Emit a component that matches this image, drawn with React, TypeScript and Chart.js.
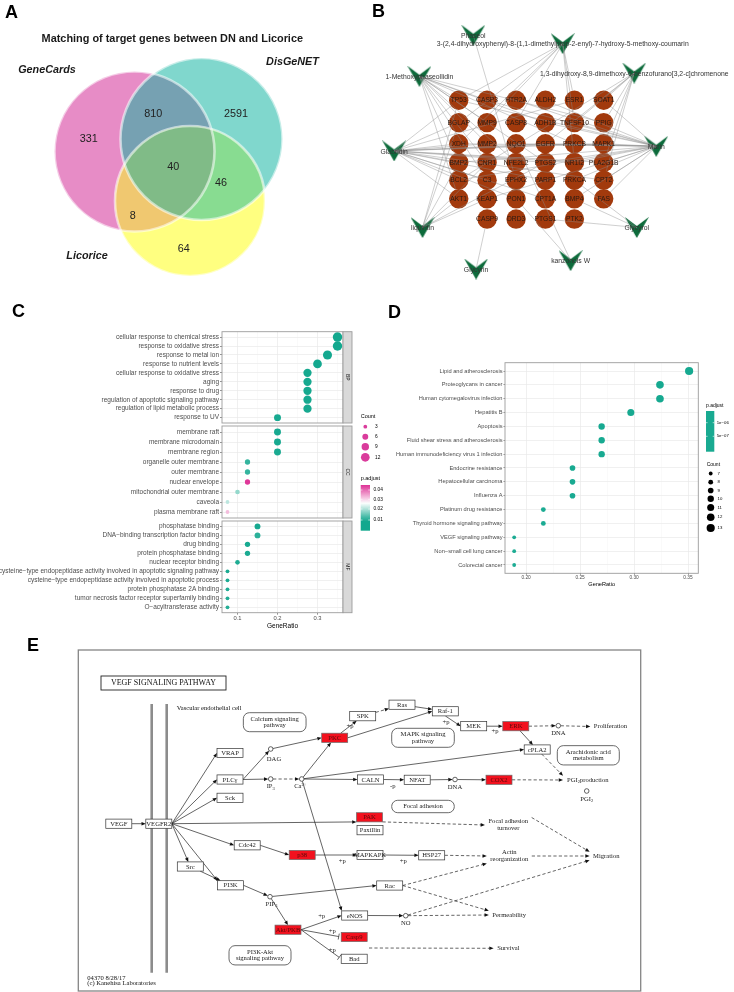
import React, { useEffect, useRef } from 'react';
import { Chart, registerables } from 'chart.js';

Chart.register(...registerables);

const SANS = '"Liberation Sans", Arial, Helvetica, sans-serif';
const SERIF = '"Liberation Serif", "Times New Roman", "DejaVu Serif", serif';
Chart.defaults.font.family = SANS;
const fnt = (size: number, family = SANS, weight = 'normal', style = 'normal') => `${style} ${weight} ${size}px ${family}`;

// ======================= DATA =======================
// ---- A: Venn ----
const vennTitle = 'Matching of target genes between DN and Licorice';
const vennSets = ['GeneCards', 'DisGeNET', 'Licorice'];
const vennRegions = ['GeneCards only', 'DisGeNET only', 'Licorice only', 'GeneCards & DisGeNET', 'GeneCards & Licorice', 'DisGeNET & Licorice', 'All three'];
const vennCounts = [331, 2591, 64, 810, 8, 46, 40];

// ---- B: compound-target network ----
const netGeneRows = [
  ['TP53', 'CASP3', 'HTR2A', 'ALDH2', 'ESR1', 'SOAT1'],
  ['BGLAP', 'MMP9', 'CASP8', 'ADH1B', 'TNFSF10', 'PPIG'],
  ['XDH', 'MMP2', 'NQO1', 'EGFR', 'PRKCB', 'MAPK1'],
  ['BMP2', 'CNR1', 'NFE2L2', 'PTGS2', 'NR1I2', 'PLA2G1B'],
  ['BCL2', 'C3', 'EPHX2', 'PARP1', 'PRKCA', 'CPT2'],
  ['AKT1', 'KEAP1', 'PON1', 'CPT1A', 'BMP4', 'FAS'],
  ['', 'CASP9', 'DRD3', 'PTGS1', 'PTK2', ''],
];
const netCompounds = [
  'Phaseol',
  '3-(2,4-dihydroxyphenyl)-8-(1,1-dimethylprop-2-enyl)-7-hydroxy-5-methoxy-coumarin',
  '1,3-dihydroxy-8,9-dimethoxy-6-benzofurano[3,2-c]chromenone',
  '1-Methoxyphaseollidin',
  'Glabridin',
  'Marin',
  'liquiritin',
  'Glycyrol',
  'Glycyrin',
  'kanzonols W',
];
const netTargets = [
  ['EPHX2'],
  ['ESR1', 'TNFSF10', 'BGLAP', 'MMP9', 'XDH', 'TP53', 'CASP8', 'NR1I2'],
  ['SOAT1', 'PPIG', 'MAPK1', 'PLA2G1B', 'CPT2', 'TNFSF10', 'EGFR', 'BCL2'],
  ['TP53', 'CASP3', 'MMP9', 'MMP2', 'CNR1', 'NFE2L2', 'PTGS2', 'PRKCB', 'ADH1B', 'PPIG', 'BMP2', 'AKT1', 'C3'],
  ['TP53', 'BGLAP', 'XDH', 'MMP2', 'EGFR', 'PRKCB', 'NR1I2', 'PTGS2', 'BMP2', 'BCL2', 'C3', 'PARP1', 'CPT2', 'AKT1', 'PON1', 'CPT1A', 'ESR1', 'PLA2G1B', 'MAPK1'],
  ['TP53', 'CASP3', 'HTR2A', 'ADH1B', 'TNFSF10', 'MAPK1', 'PRKCB', 'EGFR', 'NQO1', 'XDH', 'BMP2', 'PLA2G1B', 'CPT2', 'PRKCA', 'NR1I2', 'BCL2', 'KEAP1', 'BMP4', 'FAS', 'PTGS2', 'ALDH2', 'SOAT1'],
  ['TP53', 'BMP2', 'KEAP1', 'CNR1', 'BGLAP', 'PTGS2', 'AKT1'],
  ['BMP4', 'PTGS1', 'PRKCA'],
  ['CASP9'],
  ['PON1', 'NQO1'],
];

// ---- C: GO enrichment ----
const bpTerms = ['cellular response to chemical stress', 'response to oxidative stress', 'response to metal ion', 'response to nutrient levels', 'cellular response to oxidative stress', 'aging', 'response to drug', 'regulation of apoptotic signaling pathway', 'regulation of lipid metabolic process', 'response to UV'];
const bpRatio = [0.35, 0.35, 0.325, 0.3, 0.275, 0.275, 0.275, 0.275, 0.275, 0.2];
const bpCount = [14, 14, 13, 12, 11, 11, 11, 11, 11, 8];
const bpPadj = [0.0093, 0.0093, 0.0094, 0.0094, 0.0095, 0.0095, 0.0095, 0.0096, 0.0096, 0.0097];

const ccTerms = ['membrane raft', 'membrane microdomain', 'membrane region', 'organelle outer membrane', 'outer membrane', 'nuclear envelope', 'mitochondrial outer membrane', 'caveola', 'plasma membrane raft'];
const ccRatio = [0.2, 0.2, 0.2, 0.125, 0.125, 0.125, 0.1, 0.075, 0.075];
const ccCount = [8, 8, 8, 5, 5, 5, 4, 3, 3];
const ccPadj = [0.0096, 0.0096, 0.0098, 0.0118, 0.0118, 0.0445, 0.019, 0.022, 0.0328];

const mfTerms = ['phosphatase binding', 'DNA\u2212binding transcription factor binding', 'drug binding', 'protein phosphatase binding', 'nuclear receptor binding', 'cysteine\u2212type endopeptidase activity involved in apoptotic signaling pathway', 'cysteine\u2212type endopeptidase activity involved in apoptotic process', 'protein phosphatase 2A binding', 'tumor necrosis factor receptor superfamily binding', 'O\u2212acyltransferase activity'];
const mfRatio = [0.15, 0.15, 0.125, 0.125, 0.1, 0.075, 0.075, 0.075, 0.075, 0.075];
const mfCount = [6, 6, 5, 5, 4, 3, 3, 3, 3, 3];
const mfPadj = [0.0096, 0.0112, 0.0097, 0.0099, 0.0101, 0.0098, 0.0099, 0.0102, 0.0104, 0.0106];

const goStrips = ['BP', 'CC', 'MF'];
const goXTicks = [0.1, 0.15, 0.2, 0.25, 0.3, 0.35];
const goCountLegend = [3, 6, 9, 12];
const goPadjTicks = [0.04, 0.03, 0.02, 0.01];

// ---- D: KEGG enrichment ----
const keggTerms = ['Lipid and atherosclerosis', 'Proteoglycans in cancer', 'Human cytomegalovirus infection', 'Hepatitis B', 'Apoptosis', 'Fluid shear stress and atherosclerosis', 'Human immunodeficiency virus 1 infection', 'Endocrine resistance', 'Hepatocellular carcinoma', 'Influenza A', 'Platinum drug resistance', 'Thyroid hormone signaling pathway', 'VEGF signaling pathway', 'Non\u2212small cell lung cancer', 'Colorectal cancer'];
const keggRatio = [0.351, 0.324, 0.324, 0.297, 0.27, 0.27, 0.27, 0.243, 0.243, 0.243, 0.216, 0.216, 0.189, 0.189, 0.189];
const keggCount = [13, 12, 12, 11, 10, 10, 10, 9, 9, 9, 8, 8, 7, 7, 7];
const keggPadj = [2e-9, 3e-8, 4e-8, 9e-8, 2e-7, 2.5e-7, 3e-7, 4e-7, 5e-7, 6e-7, 8e-7, 9e-7, 1.1e-6, 1.2e-6, 1.3e-6];
const keggXTicks = [0.2, 0.225, 0.25, 0.275, 0.3, 0.325, 0.35];
const keggCountLegend = [7, 8, 9, 10, 11, 12, 13];
const keggPadjTicks = ['1e\u221206', '5e\u221207'];

// ---- E: KEGG VEGF pathway map ----
const pwTitle = 'VEGF SIGNALING PATHWAY';
const pwGeneIds = ['VEGF', 'VEGFR2', 'VRAP', 'PLCg', 'Sck', 'Src', 'PI3K', 'Cdc42', 'p38', 'MAPKAPK', 'HSP27', 'PAK', 'Paxillin', 'Rac', 'eNOS', 'Akt', 'Casp9', 'Bad', 'PKC', 'SPK', 'Ras', 'Raf1', 'MEK', 'ERK', 'cPLA2', 'CALN', 'NFAT', 'COX2'];
const pwGeneLabels = ['VEGF', 'VEGFR2', 'VRAP', 'PLC\u03b3', 'Sck', 'Src', 'PI3K', 'Cdc42', 'p38', 'MAPKAPK', 'HSP27', 'PAK', 'Paxillin', 'Rac', 'eNOS', 'Akt/PKB', 'Casp9', 'Bad', 'PKC', 'SPK', 'Ras', 'Raf-1', 'MEK', 'ERK', 'cPLA2', 'CALN', 'NFAT', 'COX2'];
const pwHits = ['PKC', 'ERK', 'COX2', 'PAK', 'p38', 'Akt', 'Casp9'];
const pwMapIds = ['CaMap', 'MAPKMap', 'AAMap', 'FAMap', 'PI3KMap'];
const pwMapLabels = [['Calcium signaling', 'pathway'], ['MAPK signaling', 'pathway'], ['Arachidonic acid', 'metabolism'], ['Focal adhesion'], ['PI3K-Akt', 'signaling pathway']];
const pwCpdIds = ['DAG', 'IP3', 'Ca', 'DNA1', 'DNA2', 'PGI2', 'PIP3', 'NO'];
// _{..} subscript, ^{..} superscript
const pwCpdLabels = ['DAG', 'IP_{3}', 'Ca^{2+}', 'DNA', 'DNA', 'PGI_{2}', 'PIP_{3}', 'NO'];
const pwOutIds = ['Prolif', 'PGIprod', 'FATurn', 'Actin', 'Migr', 'Perm', 'Surv'];
const pwOutLabels = [['Proliferation'], ['PGI_{2}production'], ['Focal adhesion', 'turnover'], ['Actin', 'reorganization'], ['Migration'], ['Permeability'], ['Survival']];
// [from, to, type (a arrow, d dashed, i inhibition), fromAnchor, toAnchor]
const pwEdges = [
  ['VEGF', 'VEGFR2', 'a', 'r', 'l'],
  ['VEGFR2', 'VRAP', 'a', 'r', 'l'], ['VEGFR2', 'PLCg', 'a', 'r', 'l'], ['VEGFR2', 'Sck', 'a', 'r', 'l'],
  ['VEGFR2', 'PAK', 'a', 'r', 'bl'], ['VEGFR2', 'Cdc42', 'a', 'r', 'l'], ['VEGFR2', 'Src', 'a', 'r', ''], ['VEGFR2', 'PI3K', 'a', 'r', 'tl'],
  ['Src', 'PI3K', 'a', '', ''],
  ['PLCg', 'DAG', 'a', 'r', ''], ['PLCg', 'IP3', 'a', 'r', ''], ['IP3', 'Ca', 'd', '', ''],
  ['DAG', 'PKC', 'a', '', 'l'], ['Ca', 'PKC', 'a', '', ''], ['Ca', 'CALN', 'a', '', 'l'], ['Ca', 'cPLA2', 'a', '', 'l'], ['Ca', 'eNOS', 'a', '', 'tl'],
  ['PKC', 'SPK', 'a', '', ''], ['PKC', 'Raf1', 'a', 'r', 'l'], ['SPK', 'Ras', 'd', '', ''], ['Ras', 'Raf1', 'a', '', ''],
  ['Raf1', 'MEK', 'a', 'b', 'l'], ['MEK', 'ERK', 'a', 'r', 'l'], ['ERK', 'DNA1', 'd', 'r', ''], ['DNA1', 'Prolif', 'd', '', 'l'],
  ['ERK', 'cPLA2', 'a', '', ''], ['cPLA2', 'PGIprod', 'd', '', 'tl'],
  ['CALN', 'NFAT', 'a', 'r', 'l'], ['NFAT', 'DNA2', 'a', 'r', ''], ['DNA2', 'COX2', 'a', '', 'l'], ['COX2', 'PGIprod', 'd', 'r', 'l'],
  ['PAK', 'FATurn', 'd', 'br', 'l'], ['Cdc42', 'p38', 'a', 'r', 'l'], ['p38', 'MAPKAPK', 'a', 'r', 'l'], ['MAPKAPK', 'HSP27', 'a', 'r', 'l'], ['HSP27', 'Actin', 'd', 'r', 'l'],
  ['PI3K', 'PIP3', 'a', 'r', ''], ['PIP3', 'Rac', 'a', '', 'l'], ['PIP3', 'Akt', 'a', '', 't'],
  ['Akt', 'eNOS', 'a', 'r', 'l'], ['Akt', 'Casp9', 'i', 'r', 'l'], ['Akt', 'Bad', 'i', 'r', 'l'],
  ['eNOS', 'NO', 'a', 'r', ''], ['NO', 'Perm', 'd', '', 'l'], ['NO', 'Migr', 'd', '', 'bl'],
  ['Rac', 'Actin', 'd', 'r', 'bl'], ['Rac', 'Perm', 'd', 'r', 'tl'],
  ['FATurn', 'Migr', 'd', 'tr', 'tl'], ['Actin', 'Migr', 'd', 'r', 'l'], ['J', 'Surv', 'd', '', 'l'],
];
const pwNotes = ['+p', '+p', '+p', '-p', '+p', '+p', '+p', '+p', '+p'];
const pwCaption = ['04370 8/28/17', '(c) Kanehisa Laboratories'];

// ======================= LAYOUT (positions / sizes / styles) =======================
const vennCircles = [[134.5, 151.5, 80], [201.5, 139, 81], [190, 201, 75]];
const vennFill = ['#E78CC6', '#80D7CD', '#FFFF80'];
const vennOverlap = { GD: '#76A1B2', GL: '#F0C870', DL: '#88DC91', GDL: '#80BB87' };
const vennSetLabelPos = [[47, 70], [292.5, 62], [87, 256]];
const vennCountPos = [[88.7, 139.3], [236, 114.5], [183.7, 248.7], [153.3, 114.5], [132.7, 216], [221, 182.7], [173.3, 166.7]];

const netColX = [453.3, 483.3, 514, 545, 575.7, 606.7];
const netRowY = [96.7, 120.7, 143.3, 163.3, 182.3, 202.3, 224];
const netCompoundPos = [[468.7, 27], [563.3, 36], [639, 67.5], [411.7, 71], [385, 151], [662.3, 146], [415, 233], [641.7, 233], [471.7, 277.5], [571.7, 268.5]];
const GENE_R = 9.7;

const C_LAYOUT = [
  { top: 300, height: 132, areaTop: 331.7, areaBottom: 423 },
  { top: 404, height: 140, areaTop: 426, areaBottom: 518 },
  { top: 508, height: 127, areaTop: 521, areaBottom: 612.7 },
];
const C_X = [0.06125, 0.36375];
const C_AREA_LEFT = 222, C_AREA_RIGHT = 343, C_CANVAS_W = 400;

const D_X = [0.1805, 0.3595];
const D_CANVAS = { left: 370, top: 300, width: 364, height: 300 };
const D_AREA = { left: 505, right: 698.3, top: 362.7, bottom: 573.3 };

const pwPos: Record<string, number[]> = {
  VEGF: [118.8, 823.7], VEGFR2: [158.8, 823.7], VRAP: [230, 753], PLCg: [230, 779.5], Sck: [230, 797.8],
  Src: [190.3, 866.5], PI3K: [230.5, 885.3], Cdc42: [247.2, 845.3], p38: [302.2, 855], MAPKAPK: [370, 855],
  HSP27: [431.7, 855.3], PAK: [369.5, 817.3], Paxillin: [370, 830.2], Rac: [389.7, 885.5], eNOS: [354.7, 915.5],
  Akt: [288, 929.7], Casp9: [354.2, 937], Bad: [354.2, 958.8], PKC: [334.7, 737.8], SPK: [362.7, 716.2],
  Ras: [402, 704.7], Raf1: [445.3, 711.3], MEK: [473.7, 726.2], ERK: [515.8, 726.2], cPLA2: [537.2, 749.5],
  CALN: [370.5, 779.5], NFAT: [417.2, 779.8], COX2: [499, 779.8],
  CaMap: [274.7, 722.2, 62.7, 19], MAPKMap: [423, 737.8, 62.6, 19], AAMap: [588.3, 755.3, 62, 19.3], FAMap: [423, 806.5, 62.6, 12.4], PI3KMap: [260, 955.3, 62, 19.3],
  DAG: [270.7, 749, 3.3, 10.3], IP3: [270.7, 779], Ca: [301.7, 779, -1.5, 7.7], DNA1: [558.3, 725.7], DNA2: [455, 779.5], PGI2: [586.7, 791, 0, 8.3], PIP3: [270, 896.7, 1.5, 7.3], NO: [405.7, 915.7],
  Prolif: [610.5, 726.5], PGIprod: [587.8, 780], FATurn: [508.3, 825], Actin: [509.3, 856], Migr: [606.3, 856], Perm: [509.2, 915], Surv: [508.3, 948.3],
  J: [369, 948],
};
const pwNotePos = [[350, 726.7], [446, 722.3], [495, 731.7], [392.7, 786], [342.3, 861.7], [321.7, 916], [332.3, 931.7], [332.3, 950], [403.3, 861.7]];
const pwFrame = [78.3, 650, 640.7, 991];
const pwTitleBox = [101, 676, 226, 690];
const pwMembraneX = [151.7, 166.7];
const pwMembraneY = [704, 972.7];

// ======================= HELPERS =======================
function hiddenOptions(xmin: number, xmax: number, ymin: number, ymax: number) {
  return {
    responsive: false, maintainAspectRatio: false, animation: false, events: [],
    layout: { padding: 0 },
    plugins: { legend: { display: false }, tooltip: { enabled: false }, title: { display: false } },
    scales: {
      x: { type: 'linear', display: false, min: xmin, max: xmax },
      y: { type: 'linear', display: false, min: ymin, max: ymax, reverse: true },
    },
  };
}

function drawLetter(ctx: CanvasRenderingContext2D, t: string, x: number, y: number) {
  ctx.save();
  ctx.font = fnt(18, SANS, 'bold');
  ctx.fillStyle = '#000';
  ctx.textAlign = 'left';
  ctx.textBaseline = 'alphabetic';
  ctx.fillText(t, x, y);
  ctx.restore();
}

const lerp = (a: number, b: number, t: number) => a + (b - a) * t;
function mixRGB(c1: number[], c2: number[], t: number) {
  return `rgb(${Math.round(lerp(c1[0], c2[0], t))},${Math.round(lerp(c1[1], c2[1], t))},${Math.round(lerp(c1[2], c2[2], t))})`;
}
const GO_TEAL = [19, 168, 142], GO_WHITE = [255, 255, 255], GO_PINK = [222, 50, 150];
const GO_P = [0.0093, 0.027, 0.045];
function colorGO(p: number) {
  if (p <= GO_P[0]) return mixRGB(GO_TEAL, GO_TEAL, 0);
  if (p <= GO_P[1]) return mixRGB(GO_TEAL, GO_WHITE, (p - GO_P[0]) / (GO_P[1] - GO_P[0]));
  return mixRGB(GO_WHITE, GO_PINK, Math.min(1, (p - GO_P[1]) / (GO_P[2] - GO_P[1])));
}
const sizeGO = (n: number) => Math.sqrt(1.7 * n - 1.5);
const sizeKEGG = (n: number) => Math.sqrt(2.2 * n - 11.8);
function colorKEGG(p: number) {
  return mixRGB([22, 169, 144], [30, 172, 148], Math.min(1, p / 1.4e-6));
}

// rich text with _{sub} and ^{sup}, centred at (x, y)
function drawRich(ctx: CanvasRenderingContext2D, text: string, x: number, y: number, size: number, family: string) {
  const segs: { t: string; k: string }[] = [];
  const re = /([_^])\{([^}]*)\}/g;
  let last = 0;
  let m: RegExpExecArray | null;
  while ((m = re.exec(text))) {
    if (m.index > last) segs.push({ t: text.slice(last, m.index), k: '' });
    segs.push({ t: m[2], k: m[1] });
    last = m.index + m[0].length;
  }
  if (last < text.length) segs.push({ t: text.slice(last), k: '' });
  const small = size * 0.68;
  const widths = segs.map((s) => { ctx.font = fnt(s.k ? small : size, family); return ctx.measureText(s.t).width; });
  const total = widths.reduce((a, b) => a + b, 0);
  let cx = x - total / 2;
  ctx.save();
  ctx.textAlign = 'left';
  ctx.textBaseline = 'middle';
  segs.forEach((s, i) => {
    ctx.font = fnt(s.k ? small : size, family);
    const dy = s.k === '_' ? size * 0.3 : s.k === '^' ? -size * 0.32 : 0;
    ctx.fillText(s.t, cx, y + dy);
    cx += widths[i];
  });
  ctx.restore();
  return total;
}

function ChartCanvas(props: { left: number; top: number; width: number; height: number; make: () => any }) {
  const ref = useRef<HTMLCanvasElement | null>(null);
  useEffect(() => {
    const el = ref.current;
    if (!el) return;
    const chart = new Chart(el, props.make());
    return () => chart.destroy();
  }, []);
  const { left, top, width, height } = props;
  return <canvas ref={ref} width={width} height={height} style={{ position: 'absolute', left, top, width, height }} />;
}

// ======================= PANEL A =======================
const vennPlugin = {
  id: 'venn',
  beforeDatasetsDraw(chart: any) {
    const { ctx, scales: { x, y } } = chart;
    const C = vennCircles.map((c) => ({ x: x.getPixelForValue(c[0]), y: y.getPixelForValue(c[1]), r: x.getPixelForValue(c[0] + c[2]) - x.getPixelForValue(c[0]) }));
    const path = (c: any) => { ctx.beginPath(); ctx.arc(c.x, c.y, c.r, 0, Math.PI * 2); };
    ctx.save();
    C.forEach((c, i) => { path(c); ctx.fillStyle = vennFill[i]; ctx.fill(); });
    const clipFill = (clips: number[], idx: number, color: string) => {
      ctx.save();
      clips.forEach((k) => { path(C[k]); ctx.clip(); });
      path(C[idx]); ctx.fillStyle = color; ctx.fill();
      ctx.restore();
    };
    clipFill([0], 1, vennOverlap.GD);
    clipFill([0], 2, vennOverlap.GL);
    clipFill([1], 2, vennOverlap.DL);
    clipFill([0, 1], 2, vennOverlap.GDL);
    ctx.lineWidth = 2.6;
    ctx.strokeStyle = 'rgba(255,255,255,0.55)';
    C.forEach((c) => { path(c); ctx.stroke(); });
    ctx.restore();
  },
  afterDatasetsDraw(chart: any) {
    const { ctx, scales: { x, y } } = chart;
    ctx.save();
    ctx.textAlign = 'center';
    ctx.textBaseline = 'middle';
    ctx.fillStyle = '#222';
    ctx.font = fnt(10.8);
    chart.getDatasetMeta(0).data.forEach((pt: any, i: number) => ctx.fillText(String(vennCounts[i]), pt.x, pt.y));
    ctx.fillStyle = '#1a1a1a';
    ctx.font = fnt(10.9, SANS, 'bold');
    ctx.fillText(vennTitle, x.getPixelForValue(172.3), y.getPixelForValue(39.3));
    ctx.font = fnt(10.8, SANS, 'bold', 'italic');
    vennSets.forEach((s, i) => ctx.fillText(s, x.getPixelForValue(vennSetLabelPos[i][0]), y.getPixelForValue(vennSetLabelPos[i][1])));
    ctx.restore();
    drawLetter(ctx, 'A', 5, 18);
  },
};
const vennConfig = () => ({
  type: 'scatter',
  data: { datasets: [{ label: 'regions', data: vennCountPos.map((p, i) => ({ x: p[0], y: p[1], region: vennRegions[i] })), pointRadius: 0 }] },
  options: hiddenOptions(0, 370, 0, 300),
  plugins: [vennPlugin],
});

// ======================= PANEL B =======================
const netGeneNames: string[] = [];
const netGenePts: { x: number; y: number }[] = [];
netGeneRows.forEach((row, r) => row.forEach((g, c) => { if (g) { netGeneNames.push(g); netGenePts.push({ x: netColX[c], y: netRowY[r] }); } }));

const netPlugin = {
  id: 'net',
  afterDatasetsDraw(chart: any) {
    const { ctx } = chart;
    const genes = chart.getDatasetMeta(0).data;
    const cpds = chart.getDatasetMeta(1).data;
    ctx.save();
    ctx.strokeStyle = 'rgba(140,140,140,0.7)';
    ctx.lineWidth = 0.6;
    netTargets.forEach((tg, ci) => {
      const c = cpds[ci];
      tg.forEach((name) => {
        const g = genes[netGeneNames.indexOf(name)];
        if (!g) return;
        const dx = g.x - c.x, dy = g.y - c.y, L = Math.hypot(dx, dy);
        ctx.beginPath();
        ctx.moveTo(c.x, c.y);
        ctx.lineTo(g.x - (dx / L) * GENE_R, g.y - (dy / L) * GENE_R);
        ctx.stroke();
      });
    });
    ctx.textAlign = 'center';
    ctx.textBaseline = 'middle';
    ctx.font = fnt(6.7);
    ctx.fillStyle = '#2a1a12';
    genes.forEach((g: any, i: number) => ctx.fillText(netGeneNames[i], g.x, g.y + 0.3));
    ctx.font = fnt(6.8);
    ctx.fillStyle = '#333';
    cpds.forEach((c: any, i: number) => ctx.fillText(netCompounds[i], c.x, c.y + 1));
    ctx.restore();
    drawLetter(ctx, 'B', 2, 17);
  },
};
const networkConfig = () => {
  const chev = document.createElement('canvas');
  chev.width = 24; chev.height = 21;
  const g = chev.getContext('2d')!;
  g.fillStyle = '#0D6B3B';
  g.beginPath(); g.moveTo(0, 0); g.lineTo(12, 9); g.lineTo(24, 0); g.lineTo(12, 21); g.closePath(); g.fill();
  return {
    type: 'scatter',
    data: {
      datasets: [
        { label: 'targets', data: netGenePts, pointRadius: GENE_R, pointBackgroundColor: '#A23A0D', pointBorderWidth: 0 },
        { label: 'compounds', data: netCompoundPos.map((p) => ({ x: p[0], y: p[1] })), pointRadius: 10, pointStyle: chev, pointBorderWidth: 0 },
      ],
    },
    options: hiddenOptions(370, 734, 0, 300),
    plugins: [netPlugin],
  };
};

// ======================= PANEL C =======================
const goFacets = [
  { terms: bpTerms, ratio: bpRatio, count: bpCount, padj: bpPadj, strip: goStrips[0] },
  { terms: ccTerms, ratio: ccRatio, count: ccCount, padj: ccPadj, strip: goStrips[1] },
  { terms: mfTerms, ratio: mfRatio, count: mfCount, padj: mfPadj, strip: goStrips[2] },
];
const isMajorC = (v: number) => Math.abs(v * 10 - Math.round(v * 10)) < 1e-6;

function panelFrame(ctx: CanvasRenderingContext2D, a: any, strip?: string) {
  ctx.save();
  ctx.strokeStyle = '#9c9c9c';
  ctx.lineWidth = 0.9;
  ctx.strokeRect(a.left, a.top, a.right - a.left, a.bottom - a.top);
  if (strip) {
    ctx.fillStyle = '#d9d9d9';
    ctx.fillRect(a.right, a.top, 9, a.bottom - a.top);
    ctx.strokeRect(a.right, a.top, 9, a.bottom - a.top);
    ctx.translate(a.right + 4.5, (a.top + a.bottom) / 2);
    ctx.rotate(Math.PI / 2);
    ctx.fillStyle = '#1a1a1a';
    ctx.font = fnt(5);
    ctx.textAlign = 'center';
    ctx.textBaseline = 'middle';
    ctx.fillText(strip, 0, 0);
  }
  ctx.restore();
}

function goLegend(ctx: CanvasRenderingContext2D, oy: number) {
  ctx.save();
  ctx.fillStyle = '#000';
  ctx.textAlign = 'left';
  ctx.textBaseline = 'middle';
  ctx.font = fnt(5.5);
  ctx.fillText('Count', 360.7, 416 - oy);
  const ys = [426.7, 436.7, 446.7, 457.3];
  goCountLegend.forEach((n, i) => {
    ctx.fillStyle = '#DA3C9C';
    ctx.beginPath(); ctx.arc(365.3, ys[i] - oy, sizeGO(n), 0, Math.PI * 2); ctx.fill();
    ctx.fillStyle = '#000';
    ctx.font = fnt(4.8);
    ctx.fillText(String(n), 375, ys[i] - oy);
  });
  ctx.font = fnt(5.5);
  ctx.fillText('p.adjust', 360.7, 478.7 - oy);
  const top = 485 - oy, bot = 530.7 - oy;
  const pAt = (yy: number) => 0.04 - (yy + oy - 490) / 1000;
  const grad = ctx.createLinearGradient(0, top, 0, bot);
  for (let k = 0; k <= 10; k++) {
    const yy = top + ((bot - top) * k) / 10;
    grad.addColorStop(k / 10, colorGO(pAt(yy)));
  }
  ctx.fillStyle = grad;
  ctx.fillRect(360.7, top, 9.3, bot - top);
  const tys = [490, 499.3, 509, 520];
  goPadjTicks.forEach((p, i) => {
    ctx.strokeStyle = '#fff';
    ctx.lineWidth = 0.6;
    ctx.beginPath(); ctx.moveTo(360.7, tys[i] - oy); ctx.lineTo(362.5, tys[i] - oy); ctx.moveTo(368.2, tys[i] - oy); ctx.lineTo(370, tys[i] - oy); ctx.stroke();
    ctx.fillStyle = '#000';
    ctx.font = fnt(4.8);
    ctx.fillText(p.toFixed(2), 373.5, tys[i] - oy);
  });
  ctx.restore();
}

function goFacetConfig(idx: number) {
  const fc = goFacets[idx];
  const L = C_LAYOUT[idx];
  const showX = idx === 2;
  const xAxisH = showX ? 17.2 : 0;
  const n = fc.terms.length;
  return {
    type: 'scatter',
    data: {
      datasets: [{
        label: fc.strip,
        data: fc.ratio.map((r, i) => ({ x: r, y: i })),
        pointRadius: (c: any) => sizeGO(fc.count[c.dataIndex]),
        pointBackgroundColor: (c: any) => colorGO(fc.padj[c.dataIndex]),
        pointBorderWidth: 0,
      }],
    },
    options: {
      responsive: false, maintainAspectRatio: false, animation: false, events: [],
      layout: { padding: { left: 0, right: C_CANVAS_W - C_AREA_RIGHT, top: L.areaTop - L.top, bottom: L.top + L.height - L.areaBottom - xAxisH } },
      plugins: { legend: { display: false }, tooltip: { enabled: false } },
      scales: {
        x: {
          type: 'linear', min: C_X[0], max: C_X[1],
          afterBuildTicks: (s: any) => { s.ticks = goXTicks.map((v) => ({ value: v })); },
          afterFit: (s: any) => { s.height = xAxisH; },
          ticks: { display: showX, autoSkip: false, maxRotation: 0, padding: 0, font: { family: SANS, size: 5.8 }, color: '#4d4d4d', callback: (v: number) => (isMajorC(v) ? String(+v.toFixed(1)) : '') },
          grid: {
            color: (c: any) => (c.tick && isMajorC(c.tick.value) ? '#e9e9e9' : '#f2f2f2'),
            lineWidth: (c: any) => (c.tick && isMajorC(c.tick.value) ? 0.7 : 0.4),
            drawTicks: showX, tickLength: 2,
            tickColor: (c: any) => (c.tick && isMajorC(c.tick.value) ? '#666' : 'rgba(0,0,0,0)'),
          },
          border: { display: false },
          title: { display: showX, text: 'GeneRatio', font: { family: SANS, size: 6.5 }, color: '#000', padding: { top: 0, bottom: 0 } },
        },
        y: {
          type: 'linear', min: -0.6, max: n - 0.4, reverse: true,
          afterBuildTicks: (s: any) => { s.ticks = fc.terms.map((_, i) => ({ value: i })); },
          afterFit: (s: any) => { s.width = C_AREA_LEFT; },
          ticks: { autoSkip: false, padding: 1, font: { family: SANS, size: 6.5 }, color: '#4d4d4d', callback: (v: number) => fc.terms[v] ?? '' },
          grid: { color: '#e9e9e9', lineWidth: 0.7, drawTicks: true, tickLength: 2, tickColor: '#666' },
          border: { display: false },
        },
      },
    },
    plugins: [{
      id: 'goFacet' + idx,
      afterDatasetsDraw(chart: any) {
        panelFrame(chart.ctx, chart.chartArea, fc.strip);
        if (idx === 0) drawLetter(chart.ctx, 'C', 12, 317 - L.top);
        if (idx === 1) goLegend(chart.ctx, L.top);
      },
    }],
  };
}

// ======================= PANEL D =======================
const isMajorD = (v: number) => Math.abs(v * 20 - Math.round(v * 20)) < 1e-6;
const D_XAXIS_H = 14.4;
function keggLegend(ctx: CanvasRenderingContext2D) {
  const ox = D_CANVAS.left, oy = D_CANVAS.top;
  ctx.save();
  ctx.fillStyle = '#000';
  ctx.textAlign = 'left';
  ctx.textBaseline = 'middle';
  ctx.font = fnt(5);
  ctx.fillText('p.adjust', 706 - ox, 406 - oy);
  ctx.fillStyle = colorKEGG(5e-7);
  ctx.fillRect(706 - ox, 411 - oy, 8.3, 40.7);
  const tys = [422.7, 436.3];
  keggPadjTicks.forEach((t, i) => {
    ctx.strokeStyle = '#fff'; ctx.lineWidth = 0.6;
    ctx.beginPath(); ctx.moveTo(706 - ox, tys[i] - oy); ctx.lineTo(707.6 - ox, tys[i] - oy); ctx.moveTo(712.7 - ox, tys[i] - oy); ctx.lineTo(714.3 - ox, tys[i] - oy); ctx.stroke();
    ctx.fillStyle = '#000';
    ctx.font = fnt(4.3);
    ctx.fillText(t, 716.7 - ox, tys[i] - oy);
  });
  ctx.font = fnt(5);
  ctx.fillText('Count', 706.7 - ox, 464.3 - oy);
  const ys = [473.5, 482.2, 490.5, 498.8, 507.5, 517.3, 528];
  keggCountLegend.forEach((n, i) => {
    ctx.fillStyle = '#000';
    ctx.beginPath(); ctx.arc(710.7 - ox, ys[i] - oy, sizeKEGG(n), 0, Math.PI * 2); ctx.fill();
    ctx.font = fnt(4.3);
    ctx.fillText(String(n), 717.5 - ox, ys[i] - oy);
  });
  ctx.restore();
}
const keggConfig = () => ({
  type: 'scatter',
  data: {
    datasets: [{
      label: 'KEGG',
      data: keggRatio.map((r, i) => ({ x: r, y: i })),
      pointRadius: (c: any) => sizeKEGG(keggCount[c.dataIndex]),
      pointBackgroundColor: (c: any) => colorKEGG(keggPadj[c.dataIndex]),
      pointBorderWidth: 0,
    }],
  },
  options: {
    responsive: false, maintainAspectRatio: false, animation: false, events: [],
    layout: { padding: { left: 0, right: D_CANVAS.left + D_CANVAS.width - D_AREA.right, top: D_AREA.top - D_CANVAS.top, bottom: D_CANVAS.top + D_CANVAS.height - D_AREA.bottom - D_XAXIS_H } },
    plugins: { legend: { display: false }, tooltip: { enabled: false } },
    scales: {
      x: {
        type: 'linear', min: D_X[0], max: D_X[1],
        afterBuildTicks: (s: any) => { s.ticks = keggXTicks.map((v) => ({ value: v })); },
        afterFit: (s: any) => { s.height = D_XAXIS_H; },
        ticks: { autoSkip: false, maxRotation: 0, padding: 0, font: { family: SANS, size: 4.8 }, color: '#4d4d4d', callback: (v: number) => (isMajorD(v) ? v.toFixed(2) : '') },
        grid: {
          color: (c: any) => (c.tick && isMajorD(c.tick.value) ? '#e9e9e9' : '#f3f3f3'),
          lineWidth: (c: any) => (c.tick && isMajorD(c.tick.value) ? 0.7 : 0.4),
          drawTicks: true, tickLength: 1.5,
          tickColor: (c: any) => (c.tick && isMajorD(c.tick.value) ? '#666' : 'rgba(0,0,0,0)'),
        },
        border: { display: false },
        title: { display: true, text: 'GeneRatio', font: { family: SANS, size: 5.6 }, color: '#000', padding: { top: 0, bottom: 0 } },
      },
      y: {
        type: 'linear', min: -0.6, max: keggTerms.length - 0.4, reverse: true,
        afterBuildTicks: (s: any) => { s.ticks = keggTerms.map((_, i) => ({ value: i })); },
        afterFit: (s: any) => { s.width = D_AREA.left - D_CANVAS.left; },
        ticks: { autoSkip: false, padding: 1, font: { family: SANS, size: 5.7 }, color: '#4d4d4d', callback: (v: number) => keggTerms[v] ?? '' },
        grid: { color: '#e9e9e9', lineWidth: 0.7, drawTicks: true, tickLength: 1.5, tickColor: '#666' },
        border: { display: false },
      },
    },
  },
  plugins: [{
    id: 'kegg',
    afterDatasetsDraw(chart: any) {
      panelFrame(chart.ctx, chart.chartArea);
      keggLegend(chart.ctx);
      drawLetter(chart.ctx, 'D', 388 - D_CANVAS.left, 318 - D_CANVAS.top);
    },
  }],
});

// ======================= PANEL E =======================
const ANCH: Record<string, number[]> = { l: [-1, 0], r: [1, 0], t: [0, -1], b: [0, 1], tl: [-1, -1], tr: [1, -1], bl: [-1, 1], br: [1, 1] };
const PW_SIZE = 6.6;
const pwFont = fnt(PW_SIZE, SERIF);
const plainText = (t: string) => t.replace(/[_^]\{([^}]*)\}/g, '$1');

function pwGeom(id: string, ctx: CanvasRenderingContext2D) {
  const p = pwPos[id];
  if (pwGeneIds.includes(id)) return { x: p[0], y: p[1], hw: 13, hh: 4.6, circle: false };
  if (pwMapIds.includes(id)) return { x: p[0], y: p[1], hw: p[2] / 2, hh: p[3] / 2, circle: false };
  if (pwCpdIds.includes(id)) return { x: p[0], y: p[1], hw: 2.4, hh: 2.4, circle: true };
  const oi = pwOutIds.indexOf(id);
  if (oi >= 0) {
    ctx.font = pwFont;
    const lines = pwOutLabels[oi];
    const w = Math.max(...lines.map((l) => ctx.measureText(plainText(l)).width));
    return { x: p[0], y: p[1], hw: w / 2 + 3.5, hh: lines.length * 3.3 + 0.9, circle: false };
  }
  return { x: p[0], y: p[1], hw: 0, hh: 0, circle: false };
}
function anchorPt(g: any, a: string, toward: { x: number; y: number }) {
  if (a && ANCH[a]) return { x: g.x + ANCH[a][0] * g.hw, y: g.y + ANCH[a][1] * g.hh };
  const dx = toward.x - g.x, dy = toward.y - g.y;
  const L = Math.hypot(dx, dy) || 1;
  if (g.circle) return { x: g.x + (dx / L) * g.hw, y: g.y + (dy / L) * g.hw };
  const tx = dx ? g.hw / Math.abs(dx) : Infinity, ty = dy ? g.hh / Math.abs(dy) : Infinity;
  const t = Math.min(tx, ty);
  return { x: g.x + dx * t, y: g.y + dy * t };
}

const pwPlugin = {
  id: 'pathway',
  afterDatasetsDraw(chart: any) {
    const { ctx, scales: { x, y } } = chart;
    const X = (v: number) => x.getPixelForValue(v);
    const Y = (v: number) => y.getPixelForValue(v);
    ctx.save();
    // frame
    ctx.strokeStyle = '#858585';
    ctx.lineWidth = 1.3;
    ctx.strokeRect(X(pwFrame[0]), Y(pwFrame[1]), X(pwFrame[2]) - X(pwFrame[0]), Y(pwFrame[3]) - Y(pwFrame[1]));
    // membrane
    ctx.strokeStyle = '#8c8c8c';
    ctx.lineWidth = 2.6;
    pwMembraneX.forEach((mx) => { ctx.beginPath(); ctx.moveTo(X(mx), Y(pwMembraneY[0])); ctx.lineTo(X(mx), Y(pwMembraneY[1])); ctx.stroke(); });
    // title
    ctx.strokeStyle = '#222';
    ctx.lineWidth = 0.9;
    ctx.strokeRect(X(pwTitleBox[0]), Y(pwTitleBox[1]), X(pwTitleBox[2]) - X(pwTitleBox[0]), Y(pwTitleBox[3]) - Y(pwTitleBox[1]));
    ctx.fillStyle = '#111';
    ctx.font = fnt(8, SERIF);
    ctx.textAlign = 'center';
    ctx.textBaseline = 'middle';
    ctx.fillText(pwTitle, X((pwTitleBox[0] + pwTitleBox[2]) / 2), Y((pwTitleBox[1] + pwTitleBox[3]) / 2 + 0.3));
    ctx.font = pwFont;
    ctx.textAlign = 'left';
    ctx.fillText('Vascular endothelial cell', X(176.7), Y(708.3));
    ctx.fillText(pwCaption[0], X(87.3), Y(977.8));
    ctx.fillText(pwCaption[1], X(87.3), Y(983.6));

    // edges
    ctx.strokeStyle = '#222';
    ctx.fillStyle = '#111';
    ctx.lineWidth = 0.7;
    pwEdges.forEach(([from, to, type, fa, ta]) => {
      const A = pwGeom(from, ctx), B = pwGeom(to, ctx);
      let s: any, e: any;
      if (ta) { e = anchorPt(B, ta, A); s = anchorPt(A, fa, e); }
      else { s = anchorPt(A, fa, B); e = anchorPt(B, '', s); }
      const p0 = { x: X(s.x), y: Y(s.y) };
      let p1 = { x: X(e.x), y: Y(e.y) };
      const ang = Math.atan2(p1.y - p0.y, p1.x - p0.x);
      const cs = Math.cos(ang), sn = Math.sin(ang);
      if (type === 'i') p1 = { x: p1.x - cs * 2.5, y: p1.y - sn * 2.5 };
      const head = type === 'i' ? 0 : 4.3;
      ctx.setLineDash(type === 'd' ? [3.2, 2.2] : []);
      ctx.beginPath();
      ctx.moveTo(p0.x, p0.y);
      ctx.lineTo(p1.x - cs * head * 0.9, p1.y - sn * head * 0.9);
      ctx.stroke();
      ctx.setLineDash([]);
      if (type === 'i') {
        ctx.beginPath();
        ctx.moveTo(p1.x - sn * 3, p1.y + cs * 3);
        ctx.lineTo(p1.x + sn * 3, p1.y - cs * 3);
        ctx.stroke();
      } else {
        ctx.beginPath();
        ctx.moveTo(p1.x, p1.y);
        ctx.lineTo(p1.x - cs * head - sn * 1.8, p1.y - sn * head + cs * 1.8);
        ctx.lineTo(p1.x - cs * head + sn * 1.8, p1.y - sn * head - cs * 1.8);
        ctx.closePath();
        ctx.fill();
      }
    });

    // gene boxes
    ctx.lineWidth = 0.7;
    pwGeneIds.forEach((id, i) => {
      const g = pwGeom(id, ctx);
      const hit = pwHits.includes(id);
      ctx.fillStyle = hit ? '#F2111E' : '#fff';
      ctx.fillRect(X(g.x - g.hw), Y(g.y - g.hh), 2 * g.hw, 2 * g.hh);
      ctx.strokeStyle = hit ? '#6b6b6b' : '#333';
      ctx.strokeRect(X(g.x - g.hw), Y(g.y - g.hh), 2 * g.hw, 2 * g.hh);
      ctx.fillStyle = hit ? '#5a0a0a' : '#1a1a1a';
      ctx.font = pwFont;
      ctx.textAlign = 'center';
      ctx.fillText(pwGeneLabels[i], X(g.x), Y(g.y + 0.3));
    });
    // map (rounded) boxes
    pwMapIds.forEach((id, i) => {
      const g = pwGeom(id, ctx);
      const x0 = X(g.x - g.hw), y0 = Y(g.y - g.hh), w = 2 * g.hw, h = 2 * g.hh;
      const r = Math.min(6, h / 2);
      ctx.beginPath();
      ctx.moveTo(x0 + r, y0);
      ctx.arcTo(x0 + w, y0, x0 + w, y0 + h, r);
      ctx.arcTo(x0 + w, y0 + h, x0, y0 + h, r);
      ctx.arcTo(x0, y0 + h, x0, y0, r);
      ctx.arcTo(x0, y0, x0 + w, y0, r);
      ctx.closePath();
      ctx.fillStyle = '#fff';
      ctx.fill();
      ctx.strokeStyle = '#444';
      ctx.lineWidth = 0.8;
      ctx.stroke();
      ctx.fillStyle = '#1a1a1a';
      ctx.font = pwFont;
      ctx.textAlign = 'center';
      const lines = pwMapLabels[i];
      lines.forEach((l, k) => ctx.fillText(l, X(g.x), Y(g.y + (k - (lines.length - 1) / 2) * 6.4)));
    });
    // compounds
    pwCpdIds.forEach((id, i) => {
      const g = pwGeom(id, ctx);
      const p = pwPos[id];
      ctx.beginPath();
      ctx.arc(X(g.x), Y(g.y), 2.3, 0, Math.PI * 2);
      ctx.fillStyle = '#fff';
      ctx.fill();
      ctx.strokeStyle = '#222';
      ctx.lineWidth = 0.7;
      ctx.stroke();
      ctx.fillStyle = '#1a1a1a';
      drawRich(ctx, pwCpdLabels[i], X(g.x + (p[2] ?? 0)), Y(g.y + (p[3] ?? 7.7)), PW_SIZE, SERIF);
    });
    // outcomes
    pwOutIds.forEach((id, i) => {
      const p = pwPos[id];
      const lines = pwOutLabels[i];
      ctx.fillStyle = '#1a1a1a';
      lines.forEach((l, k) => drawRich(ctx, l, X(p[0]), Y(p[1] + (k - (lines.length - 1) / 2) * 6.6), PW_SIZE, SERIF));
    });
    // +p notes
    pwNotes.forEach((t, i) => {
      ctx.fillStyle = '#1a1a1a';
      ctx.font = pwFont;
      ctx.textAlign = 'center';
      ctx.textBaseline = 'middle';
      ctx.fillText(t, X(pwNotePos[i][0]), Y(pwNotePos[i][1]));
    });
    ctx.restore();
    drawLetter(ctx, 'E', X(27), Y(651));
  },
};
const pathwayConfig = () => ({
  type: 'scatter',
  data: { datasets: [{ label: 'nodes', data: Object.keys(pwPos).map((k) => ({ x: pwPos[k][0], y: pwPos[k][1] })), pointRadius: 0 }] },
  options: hiddenOptions(0, 734, 630, 992),
  plugins: [pwPlugin],
});

// ======================= APP =======================
export default function App() {
  return (
    <div style={{ position: 'absolute', left: 0, top: 0, width: 734, height: 992, background: '#fff', overflow: 'hidden' }}>
      <ChartCanvas left={0} top={0} width={370} height={300} make={vennConfig} />
      <ChartCanvas left={370} top={0} width={364} height={300} make={networkConfig} />
      <ChartCanvas left={D_CANVAS.left} top={D_CANVAS.top} width={D_CANVAS.width} height={D_CANVAS.height} make={keggConfig} />
      {C_LAYOUT.map((L, i) => (
        <ChartCanvas key={i} left={0} top={L.top} width={C_CANVAS_W} height={L.height} make={() => goFacetConfig(i)} />
      ))}
      <ChartCanvas left={0} top={630} width={734} height={362} make={pathwayConfig} />
    </div>
  );
}
